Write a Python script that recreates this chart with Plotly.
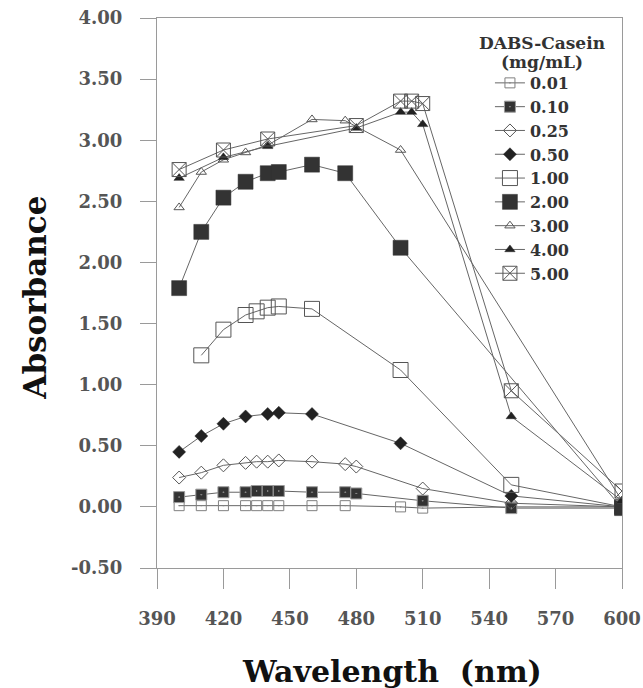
import plotly.graph_objects as go

# ---- data ----
wl_001 = [400, 410, 420, 430, 435, 440, 445, 460, 475, 500, 510, 550, 600]
abs_001 = [0.01, 0.01, 0.01, 0.01, 0.01, 0.01, 0.01, 0.01, 0.01, 0.00, -0.01, 0.00, 0.00]

wl_010 = [400, 410, 420, 430, 435, 440, 445, 460, 475, 480, 510, 550, 600]
abs_010 = [0.08, 0.10, 0.12, 0.12, 0.13, 0.13, 0.13, 0.12, 0.12, 0.11, 0.05, -0.01, -0.01]

wl_025 = [400, 410, 420, 430, 435, 440, 445, 460, 475, 480, 510, 550, 600]
abs_025 = [0.24, 0.28, 0.34, 0.36, 0.37, 0.37, 0.38, 0.37, 0.35, 0.33, 0.15, 0.03, 0.00]

wl_050 = [400, 410, 420, 430, 440, 445, 460, 500, 550, 600]
abs_050 = [0.45, 0.58, 0.68, 0.74, 0.76, 0.77, 0.76, 0.52, 0.09, 0.00]

wl_100 = [410, 420, 430, 435, 440, 445, 460, 500, 550, 600]
abs_100 = [1.24, 1.45, 1.57, 1.60, 1.63, 1.64, 1.62, 1.12, 0.18, 0.00]

wl_200 = [400, 410, 420, 430, 440, 445, 460, 475, 500, 600]
abs_200 = [1.79, 2.25, 2.53, 2.66, 2.73, 2.74, 2.80, 2.73, 2.12, -0.01]

wl_300 = [400, 410, 420, 430, 440, 460, 475, 500, 600]
abs_300 = [2.45, 2.74, 2.84, 2.90, 2.96, 3.17, 3.16, 2.92, 0.05]

wl_400 = [400, 420, 440, 480, 500, 505, 510, 550, 600]
abs_400 = [2.69, 2.86, 2.95, 3.10, 3.23, 3.23, 3.13, 0.74, 0.05]

wl_500 = [400, 420, 440, 480, 500, 505, 510, 550, 600]
abs_500 = [2.76, 2.92, 3.01, 3.12, 3.32, 3.32, 3.30, 0.95, 0.13]

series_names = ["0.01", "0.10", "0.25", "0.50", "1.00", "2.00", "3.00", "4.00", "5.00"]
x_ticks = [390, 420, 450, 480, 510, 540, 570, 600]
y_ticks = [-0.5, 0.0, 0.5, 1.0, 1.5, 2.0, 2.5, 3.0, 3.5, 4.0]
y_tick_labels = ["-0.50", "0.00", "0.50", "1.00", "1.50", "2.00", "2.50", "3.00", "3.50", "4.00"]
legend_title_lines = ["DABS-Casein", "(mg/mL)"]
x_title = "Wavelength  (nm)"
y_title = "Absorbance"

# ---- styles ----
FONT = "DejaVu Serif"
LINE = dict(color="#666666", width=1)
styles = [
    dict(symbol="square-open-dot", size=10, color="#808080", line=dict(width=1, color="#808080")),
    dict(symbol="square-dot", size=11, color="#333333", line=dict(width=1, color="#9a9a9a")),
    dict(symbol="diamond-open", size=10, color="#555555", line=dict(width=1, color="#555555")),
    dict(symbol="diamond", size=10, color="#222222", line=dict(width=0.5, color="#222222")),
    dict(symbol="square-open", size=15, color="#555555", line=dict(width=1, color="#555555")),
    dict(symbol="square", size=15, color="#333333", line=dict(width=0.5, color="#333333")),
    dict(symbol="triangle-up-open", size=9, color="#555555", line=dict(width=1, color="#555555")),
    dict(symbol="triangle-up", size=9, color="#222222", line=dict(width=0.5, color="#222222")),
    dict(symbol="square-x-open", size=14, color="#555555", line=dict(width=1, color="#555555")),
]
xs = [wl_001, wl_010, wl_025, wl_050, wl_100, wl_200, wl_300, wl_400, wl_500]
ys = [abs_001, abs_010, abs_025, abs_050, abs_100, abs_200, abs_300, abs_400, abs_500]

fig = go.Figure()
for name, x, y, st in zip(series_names, xs, ys, styles):
    fig.add_trace(go.Scatter(
        x=x, y=y, name=name, mode="lines+markers",
        line=LINE,
        marker=dict(symbol=st["symbol"], size=st["size"], color=st["color"], line=st["line"]),
    ))

axis_common = dict(
    showgrid=False, zeroline=False, showline=True, mirror=True, automargin=False,
    linecolor="#9a9a9a", linewidth=1,
    ticks="outside", tickcolor="#9a9a9a", tickwidth=1,
    tickfont=dict(family=FONT, size=18, color="#555555", weight="bold"),
)

title_font = dict(family=FONT, size=17, color="#333333", weight="bold")

fig.update_layout(
    width=643, height=688,
    margin=dict(l=157, r=21, t=18, b=120),
    paper_bgcolor="white", plot_bgcolor="white",
    showlegend=True,
    legend=dict(
        x=0.716, y=0.9128, xanchor="left", yanchor="top",
        bgcolor="rgba(0,0,0,0)", borderwidth=0,
        font=dict(family=FONT, size=16, color="#333333", weight="bold"),
        tracegroupgap=0,
    ),
    xaxis=dict(range=[390, 600], tickvals=x_ticks, ticklen=20, ticklabelstandoff=14, **axis_common),
    yaxis=dict(range=[-0.5, 4.0], tickvals=y_ticks, ticktext=y_tick_labels, ticklen=16,
               ticklabelstandoff=14, **axis_common),
    annotations=[
        dict(text=legend_title_lines[0], xref="paper", yref="paper", x=0.828, y=(568 - 42.7) / 550,
             xanchor="center", yanchor="middle", showarrow=False, font=title_font),
        dict(text=legend_title_lines[1], xref="paper", yref="paper", x=0.828, y=(568 - 61.7) / 550,
             xanchor="center", yanchor="middle", showarrow=False, font=title_font),
        dict(text=x_title, xref="paper", yref="paper", x=0.505, y=-0.189,
             xanchor="center", yanchor="middle", showarrow=False,
             font=dict(family=FONT, size=30, color="#111111", weight="bold")),
        dict(text=y_title, xref="paper", yref="paper", x=-0.263, y=0.491,
             xanchor="center", yanchor="middle", showarrow=False, textangle=-90,
             font=dict(family=FONT, size=31, color="#111111", weight="bold")),
    ],
)

fig.write_html("out.html", config={"displayModeBar": False},
               post_script="document.body.style.margin='0';")
